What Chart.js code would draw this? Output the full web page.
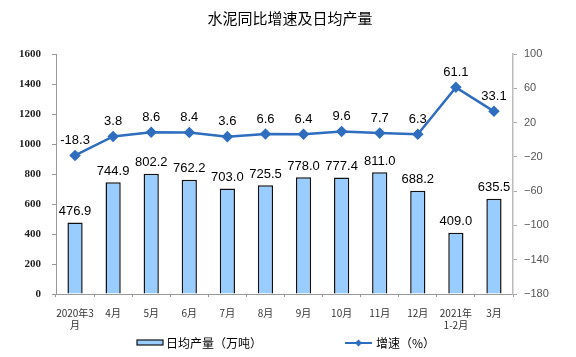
<!DOCTYPE html>
<html><head><meta charset="utf-8">
<script src="https://cdn.jsdelivr.net/npm/chart.js@4"></script>
<style>html,body{margin:0;padding:0;background:#fff;}canvas{display:block;}</style>
</head><body>
<canvas id="c" width="576" height="357"></canvas>
<script>
const categories = [['2020年3','月'],'4月','5月','6月','7月','8月','9月','10月','11月','12月',['2021年','1-2月'],'3月'];
const dailyOutput = [476.9, 744.9, 802.2, 762.2, 703.0, 725.5, 778.0, 777.4, 811.0, 688.2, 409.0, 635.5];
const growthRate = [-18.3, 3.8, 8.6, 8.4, 3.6, 6.6, 6.4, 9.6, 7.7, 6.3, 61.1, 33.1];
const leftTicks = [0,200,400,600,800,1000,1200,1400,1600];
const rightTicks = [-180,-140,-100,-60,-20,20,60,100];
const titleText = '水泥同比增速及日均产量';
const barLabel = '日均产量（万吨）';
const lineLabel = '增速（%）';

const BAR_FILL = '#99CCFF';
const LINE_COLOR = '#2F6DBF';

const labelsPlugin = {
  id: 'labelsPlugin',
  afterDatasetsDraw(chart) {
    const ctx = chart.ctx;
    ctx.save();
    ctx.font = '13px "Liberation Sans", Arial, sans-serif';
    ctx.fillStyle = '#000';
    ctx.textAlign = 'center';
    ctx.textBaseline = 'middle';
    chart.getDatasetMeta(0).data.forEach((el, i) => {
      ctx.fillText(dailyOutput[i].toFixed(1), el.x, el.y - 11);
    });
    chart.getDatasetMeta(1).data.forEach((el, i) => {
      ctx.fillText(growthRate[i].toFixed(1), el.x, el.y - 15);
    });
    // title
    ctx.font = '15px "Noto Sans CJK SC", sans-serif';
    ctx.fillText(titleText, 290, 18);
    // legend
    ctx.font = '12px "Noto Sans CJK SC", sans-serif';
    ctx.textAlign = 'left';
    ctx.fillStyle = BAR_FILL;
    ctx.fillRect(137, 340, 26, 5);
    ctx.strokeStyle = '#111';
    ctx.lineWidth = 1.2;
    ctx.strokeRect(137, 340, 26, 5);
    ctx.fillStyle = '#000';
    ctx.fillText(barLabel, 166, 343);
    ctx.strokeStyle = LINE_COLOR;
    ctx.lineWidth = 2;
    ctx.beginPath(); ctx.moveTo(345, 343); ctx.lineTo(372, 343); ctx.stroke();
    ctx.fillStyle = LINE_COLOR;
    ctx.beginPath(); ctx.moveTo(358.5, 339.5); ctx.lineTo(362, 343); ctx.lineTo(358.5, 346.5); ctx.lineTo(355, 343); ctx.closePath(); ctx.fill();
    ctx.fillStyle = '#000';
    ctx.fillText(lineLabel, 376, 343);
    ctx.restore();
  }
};

new Chart(document.getElementById('c'), {
  data: {
    labels: categories,
    datasets: [
      {
        type: 'bar', label: barLabel, data: dailyOutput, yAxisID: 'y',
        backgroundColor: BAR_FILL, borderColor: '#111', borderWidth: 1.5,
        barPercentage: 0.4, categoryPercentage: 1.0, order: 2
      },
      {
        type: 'line', label: lineLabel, data: growthRate, yAxisID: 'y1',
        borderColor: LINE_COLOR, backgroundColor: LINE_COLOR, borderWidth: 2.5,
        pointStyle: 'rectRot', pointRadius: 4, pointHoverRadius: 4, tension: 0, order: 1
      }
    ]
  },
  options: {
    responsive: false, animation: false,
    layout: { padding: { top: 54, left: 0, right: 0, bottom: 0 } },
    plugins: { legend: { display: false }, title: { display: false }, tooltip: { enabled: false } },
    scales: {
      x: {
        offset: true,
        grid: { offset: true, drawOnChartArea: false, drawTicks: true, tickLength: 3, color: '#999' },
        border: { display: true, color: '#999', width: 1 },
        ticks: { font: { size: 10, family: '"Noto Sans CJK SC", sans-serif' }, color: '#333', padding: 10, maxRotation: 0, autoSkip: false },
        afterFit(s) { s.height = 63; }
      },
      y: {
        position: 'left', min: 0, max: 1600,
        afterBuildTicks(s) { s.ticks = leftTicks.map(v => ({ value: v })); },
        grid: { drawOnChartArea: false, drawTicks: true, tickLength: 4, color: '#999' },
        border: { display: true, color: '#999', width: 1 },
        ticks: { font: { size: 11, family: '"Liberation Serif", "Times New Roman", serif', weight: 'bold' }, color: '#222', padding: 11,
          callback: v => String(v) },
        afterFit(s) { s.width = 56; }
      },
      y1: {
        position: 'right', min: -180, max: 100,
        afterBuildTicks(s) { s.ticks = rightTicks.map(v => ({ value: v })); },
        grid: { drawOnChartArea: false, drawTicks: true, tickLength: 4, color: '#aaa' },
        border: { display: true, color: '#bbb', width: 1.5 },
        ticks: { font: { size: 11, family: '"Liberation Sans", Arial, sans-serif' }, color: '#555', padding: 7,
          callback: v => (v < 0 ? '\u2212' + Math.abs(v) : String(v)) },
        afterFit(s) { s.width = 63; }
      }
    }
  },
  plugins: [labelsPlugin]
});
</script>
</body></html>
